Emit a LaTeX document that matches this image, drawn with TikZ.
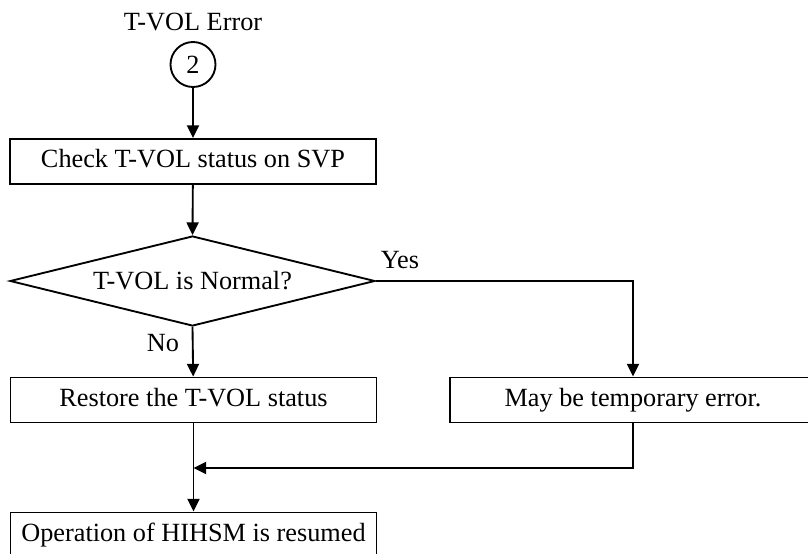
\documentclass[tikz,border=0pt]{standalone}
\usepackage{fontspec}
\setmainfont{Liberation Serif}
\usetikzlibrary{shapes.geometric,arrows.meta}
\begin{document}
\begin{tikzpicture}[x=0.75pt,y=-0.75pt,
  every node/.style={font=\fontsize{19.7}{23}\selectfont},
  procbox/.style={draw,line width=1.4pt,rectangle,minimum width=274.5pt,minimum height=33.75pt,inner sep=0pt,text height=13.5pt,text depth=4pt},
  decision/.style={draw,line width=1.4pt,diamond,shape aspect=4,minimum width=273.75pt,minimum height=67.5pt,inner sep=0pt},
  conn/.style={draw,line width=1.4pt,circle,minimum size=33.75pt,inner sep=0pt},
  flow/.style={line width=1.4pt,-{Triangle[length=9.5pt,width=9pt]}},
  plain/.style={line width=1.4pt}]
\useasboundingbox (0,0) rectangle (808,554);
\clip (0,0) rectangle (808,554);
\node (title) at (193,22) {T-VOL Error};
\node[conn] (c2) at (193,64.5) {2};
\node[procbox] (check) at (193,161.5) {Check T-VOL status on SVP};
\node[decision] (dec) at (192.5,281) {T-VOL is Normal?};
\node[procbox] (restore) at (193.5,400) {Restore the T-VOL status};
\node[procbox] (temp) at (633,400) {May be temporary error.};
\node[procbox] (resume) at (193.5,535) {Operation of HIHSM is resumed};
\node (yes) at (400,260) {Yes};
\node (no) at (163,343) {No};
\coordinate (merge) at (193.5,468);
\draw[flow] (c2) -- (check);
\draw[flow] (check) -- (dec.north);
\draw[flow] (dec.south) -- (restore);
\draw[flow] (dec.east) -| (temp.north);
\draw[flow] (temp.south) |- (merge);
\draw[flow] (restore) -- (resume);
\end{tikzpicture}
\end{document}
